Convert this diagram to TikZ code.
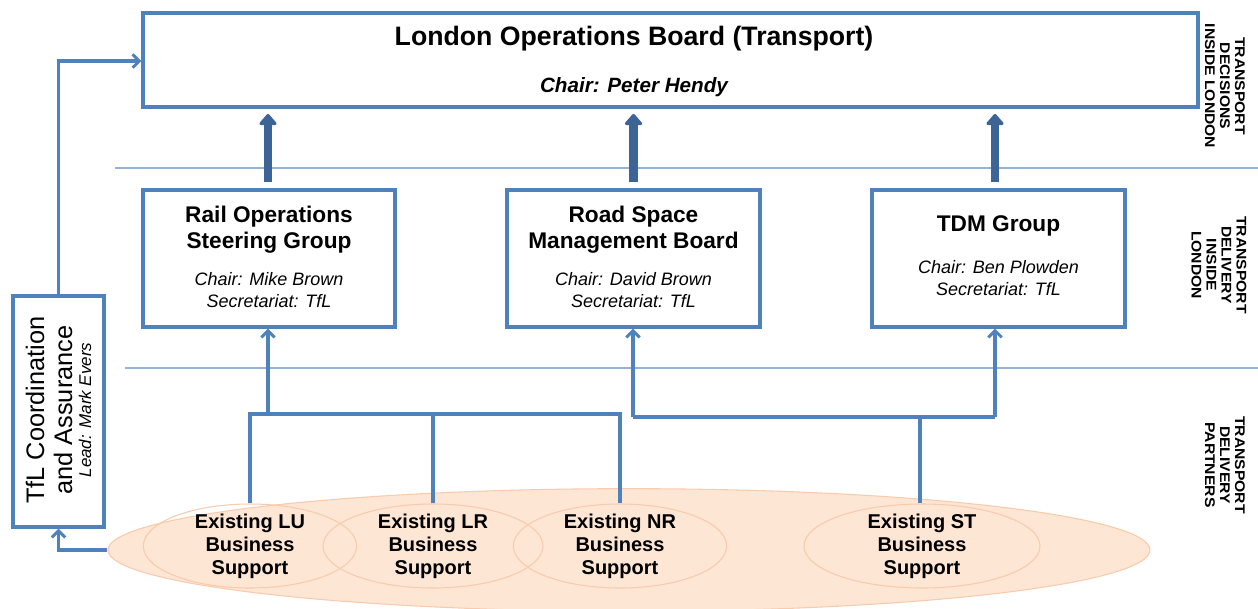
\documentclass[tikz,border=0pt]{standalone}
\usepackage{fontspec}
\setmainfont{Liberation Sans}
\usetikzlibrary{arrows.meta,shapes.geometric}
\definecolor{boxblue}{HTML}{4F81BD}
\definecolor{sepblue}{HTML}{95B3D7}
\definecolor{darkarrow}{HTML}{3C6496}
\definecolor{peach}{HTML}{FDE6D4}
\definecolor{peachline}{HTML}{F8CBAD}
\newcommand{\wide}[1]{\scalebox{1.12}[1]{#1}}
\tikzset{
  box/.style={draw=boxblue, line width=2.4pt, fill=white, inner sep=0pt},
  sepline/.style={draw=sepblue, line width=2.2pt},
  conn/.style={draw=boxblue, line width=2.4pt},
  connarrow/.style={conn, -{Straight Barb[length=5pt,width=10pt,line width=2.2pt]}},
  bigarrow/.style={draw=darkarrow, line width=6.5pt, -{Triangle[length=9pt,width=15pt,round]}},
  btitle/.style={font=\fontsize{17}{19.5}\selectfont\bfseries, align=center, inner sep=0pt},
  chairtxt/.style={font=\fontsize{13.5}{16.5}\selectfont\itshape, align=center, inner sep=0pt},
  sidelabel/.style={font=\fontsize{10.5}{11.25}\selectfont\bfseries, align=center, rotate=-90, inner sep=0pt},
  ell/.style={ellipse, draw=peachline, line width=0.8pt, inner sep=0pt},
  elltxt/.style={font=\fontsize{15}{17.25}\selectfont\bfseries, align=center, inner sep=0pt}
}
\begin{document}
\begin{tikzpicture}[x=0.75pt,y=-0.75pt]
\useasboundingbox (0,0) rectangle (1258,608);
% separators
\draw[sepline] (115,168) -- (1258,168);
\draw[sepline] (125,368) -- (1258,368);
% partners ellipse
\node[ellipse, fill=peach, draw=peachline, line width=0.8pt, minimum width=781.5pt, minimum height=92pt, inner sep=0pt] (partners) at (629,550) {};
\node[ell, minimum width=160pt, minimum height=63pt] (lu) at (250,546) {};
\node[ell, minimum width=165pt, minimum height=63pt] (lr) at (433,546) {};
\node[ell, minimum width=160pt, minimum height=63pt] (nr) at (620,546) {};
\node[ell, minimum width=177pt, minimum height=63pt] (st) at (922,546) {};
\node[elltxt] (lut) at (250,546) {Existing LU\\Business\\Support};
\node[elltxt] (lrt) at (433,546) {Existing LR\\Business\\Support};
\node[elltxt] (nrt) at (620,546) {Existing NR\\Business\\Support};
\node[elltxt] (stt) at (922,546) {Existing ST\\Business\\Support};
% top box
\node[box, minimum width=791.25pt, minimum height=70.5pt] (top) at (670.5,60) {};
\node[btitle, font=\fontsize{20}{22}\selectfont\bfseries] (topt) at (634,39) {London Operations Board (Transport)};
\node[chairtxt, font=\fontsize{15.5}{17}\selectfont\bfseries\itshape] (topc) at (634,87) {Chair: Peter Hendy};
% middle boxes
\node[box, minimum width=189pt, minimum height=102.75pt] (rail) at (269,258.5) {};
\node[box, minimum width=189.75pt, minimum height=102.75pt] (road) at (633.5,258.5) {};
\node[box, minimum width=189.75pt, minimum height=102.75pt] (tdm) at (998.5,258.5) {};
\node[btitle] (railt) at (269,230) {Rail Operations\\Steering Group};
\node[chairtxt] (railc) at (269,290) {Chair: Mike Brown\\Secretariat: TfL};
\node[btitle] (roadt) at (633.5,230) {Road Space\\Management Board};
\node[chairtxt] (roadc) at (633.5,290) {Chair: David Brown\\Secretariat: TfL};
\node[btitle] (tdmt) at (998.5,226) {TDM Group};
\node[chairtxt] (tdmc) at (998.5,278.5) {Chair: Ben Plowden\\Secretariat: TfL};
% TfL box
\node[box, minimum width=68.25pt, minimum height=173.25pt] (tfl) at (58.5,411.5) {};
\node[rotate=90, align=center, inner sep=0pt, font=\fontsize{19}{21}\selectfont] (tflt) at (49,410) {TfL Coordination\\and Assurance};
\node[rotate=90, inner sep=0pt, font=\fontsize{12.75}{14}\selectfont\itshape] (tfll) at (85,410) {Lead: Mark Evers};
% side labels
\node[sidelabel] (lab1) at (1225,86) {\wide{TRANSPORT}\\\wide{DECISIONS}\\\wide{INSIDE LONDON}};
\node[sidelabel] (lab2) at (1219,265) {\wide{TRANSPORT}\\\wide{DELIVERY}\\\wide{INSIDE}\\\wide{LONDON}};
\node[sidelabel] (lab3) at (1225,465) {\wide{TRANSPORT}\\\wide{DELIVERY}\\\wide{PARTNERS}};
% thick arrows
\draw[bigarrow, shorten <=5pt, shorten >=4pt] (rail.north -| 268,0) -- (top.south -| 268,0);
\draw[bigarrow, shorten <=5pt, shorten >=4pt] (road.north) -- (road.north |- top.south);
\draw[bigarrow, shorten <=5pt, shorten >=4pt] (tdm.north -| 995,0) -- (top.south -| 995,0);
% connectors
\coordinate (jRail) at (268,414);
\coordinate (jS) at (633,417);
\coordinate (jT) at (995,417);
\coordinate (jTop) at (58.5,61);
\draw[conn] (lu.north) |- (nr.north |- jRail) -- (nr.north);
\draw[conn] (lr.north) -- (lr.north |- jRail);
\draw[connarrow] (jRail) -- (jRail |- rail.south);
\draw[conn] (st.north -| 920,0) -- (jS -| 920,0);
\draw[conn] (jS) -- (jT);
\draw[connarrow] (jS) -- (jS |- road.south);
\draw[connarrow] (jT) -- (jT |- tdm.south);
\draw[connarrow] (tfl.north) -- (jTop) -- (jTop -| top.west);
\draw[connarrow] (partners.west) -| (tfl.south);
\end{tikzpicture}
\end{document}
